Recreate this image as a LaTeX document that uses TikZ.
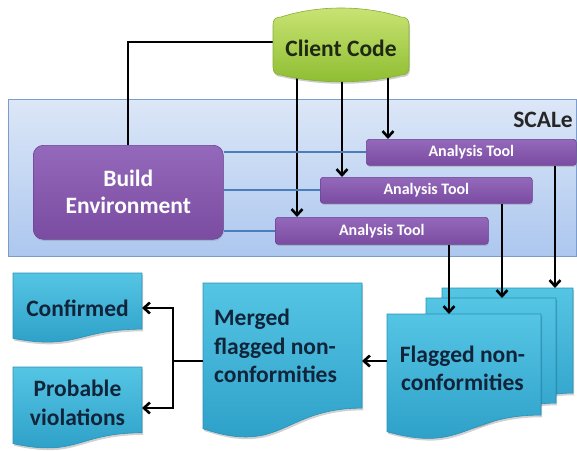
\documentclass[tikz,border=0pt]{standalone}
\usepackage{fontspec}
\setmainfont{Carlito}
\usetikzlibrary{arrows.meta,calc,shadows}

\definecolor{scaleTop}{HTML}{DCE7F7}
\definecolor{scaleBot}{HTML}{ADC7EF}
\definecolor{scaleEdge}{HTML}{7C9DCC}
\definecolor{purpTop}{HTML}{9468BA}
\definecolor{purpBot}{HTML}{7A4CA2}
\definecolor{purpEdge}{HTML}{6A4392}
\definecolor{greenTop}{HTML}{CBE476}
\definecolor{greenBot}{HTML}{8DBD30}
\definecolor{greenEdge}{HTML}{86AE36}
\definecolor{clientInk}{HTML}{1E2812}
\definecolor{docTop}{HTML}{55C5E4}
\definecolor{docBot}{HTML}{2A9DC6}
\definecolor{docEdge}{HTML}{2A90B6}
\definecolor{docInk}{HTML}{10243A}
\definecolor{linkblue}{HTML}{4A7EBB}

% helper for points on the Client Code outline, relative to its top-left corner
\newcommand\cc[2]{([shift={(#1,#2)}]client.north west)}
\newcommand\clientoutline{%
  \cc{0}{17} -- \cc{0}{59}
  .. controls \cc{0}{65} and \cc{3}{67} .. \cc{8}{67}
  .. controls \cc{45}{76} and \cc{91}{76} .. \cc{128}{67}
  .. controls \cc{133}{67} and \cc{136}{65} .. \cc{136}{59}
  -- \cc{136}{17}
  .. controls \cc{136}{11} and \cc{133}{9} .. \cc{128}{9}
  .. controls \cc{91}{-3} and \cc{45}{-3} .. \cc{8}{9}
  .. controls \cc{3}{9} and \cc{0}{11} .. \cc{0}{17} -- cycle}

% flowchart "document" outline with a wavy bottom edge
\newcommand\docoutline[1]{%
  (#1.north west) -- (#1.north east)
  -- ($(#1.north east)!0.802!(#1.south east)$)
  .. controls ($(#1.north)!0.802!(#1.south)$) and ($(#1.north)!1.107!(#1.south)$)
  .. ($(#1.north west)!0.934!(#1.south west)$) -- cycle}

\newcommand\drawdoc[1]{%
  \fill[docshadow] \docoutline{#1};
  \path[docfill] \docoutline{#1};}

\tikzset{
  flow/.style={draw=black, line width=2.6pt, -{Straight Barb[length=6pt,width=11pt]}},
  plain/.style={draw=black, line width=2.6pt},
  link/.style={draw=linkblue, line width=2pt},
  boldtext/.style={font=\fontsize{23.5}{28}\selectfont\bfseries},
  purplebox/.style={top color=purpTop, bottom color=purpBot, draw=purpEdge,
    line width=0.6pt, text=white,
    drop shadow={shadow xshift=0.6pt, shadow yshift=-1.6pt, opacity=0.3}},
  tool/.style={purplebox, rounded corners=3pt, anchor=north west,
    minimum height=26pt, inner sep=0pt, font=\fontsize{16}{19}\selectfont\bfseries},
  area/.style={rectangle, anchor=north west, inner sep=0pt, outer sep=0pt},
  doctext/.style={text=docInk, font=\fontsize{23.5}{28.5}\selectfont\bfseries, inner sep=0pt},
  docfill/.style={top color=docTop, bottom color=docBot, draw=docEdge, line width=0.6pt},
  docshadow/.style={fill=black, opacity=0.18, transform canvas={shift={(1.2pt,-2.2pt)}}},
}

\begin{document}
\begin{tikzpicture}[x=1pt, y=-1pt]
\useasboundingbox (0,0) rectangle (577,450);

% SCALe area
\node[area, minimum width=568pt, minimum height=157pt, top color=scaleTop,
  bottom color=scaleBot, draw=scaleEdge, line width=0.8pt] (scale) at (8,99) {};
\node[boldtext, anchor=east, text=black!85, inner sep=0pt] (scale-title) at (573,120) {SCALe};

% frames of the client code and of the documents
\node[area, minimum width=136pt, minimum height=74pt] (client) at (273,8) {};
\node[area, minimum width=131pt, minimum height=131pt] (flag3) at (442,288) {};
\node[area, minimum width=130pt, minimum height=131pt] (flag2) at (426,298) {};
\node[area, minimum width=154pt, minimum height=126pt] (flag1) at (387,314) {};
\node[area, minimum width=159pt, minimum height=156pt] (merged) at (203,283) {};
\node[area, minimum width=129pt, minimum height=70pt] (conf) at (13,273) {};
\node[area, minimum width=129pt, minimum height=82pt] (prob) at (13,367) {};

% analysis tools and build environment
\node[tool, minimum width=210pt] (tool1) at (366,139) {Analysis Tool};
\node[tool, minimum width=212pt] (tool2) at (320,177) {Analysis Tool};
\node[tool, minimum width=213pt, minimum height=27pt] (tool3) at (275,217) {Analysis Tool};

% connectors leaving the client code (drawn under its shape)
\coordinate (buildtop) at (128,145);
\draw[plain] ([yshift=3pt]client.west) -| (buildtop);
\draw[flow] ([shift={(24,-6)}]client.south west) -- ([xshift=22pt]tool3.north west);
\draw[flow] ([shift={(69,-6)}]client.south west) -- ([xshift=22pt]tool2.north west);
\draw[flow] ([shift={(115,-6)}]client.south west) -- ([xshift=22pt]tool1.north west);

\node[purplebox, rounded corners=10pt, anchor=north west, minimum width=190pt,
  minimum height=94pt, inner sep=0pt, align=center,
  font=\fontsize{23.5}{27}\selectfont\bfseries] (build) at (33,145) {Build\\Environment};

% client code
\fill[black, opacity=0.2, transform canvas={shift={(1pt,-2pt)}}] \clientoutline;
\path[top color=greenTop, bottom color=greenBot, draw=greenEdge, line width=0.6pt] \clientoutline;
\node[boldtext, text=clientInk, inner sep=0pt] (client-text) at ([yshift=-3pt]client.center) {Client Code};

% build environment feeds the tools
\draw[link] (build.east |- tool1.west) -- (tool1.west);
\draw[link] (build.east |- tool2.west) -- (tool2.west);
\draw[link] (build.east |- tool3.west) -- (tool3.west);

% documents
\drawdoc{flag3}
\drawdoc{flag2}
\drawdoc{flag1}
\drawdoc{merged}
\drawdoc{conf}
\drawdoc{prob}

\node[doctext, align=center] (flag-text) at ([shift={(-1.5,-8.5)}]flag1.center) {Flagged non-\\conformities};
\node[doctext, align=left, anchor=west] (merged-text) at ([shift={(11,-15)}]merged.west) {Merged\\flagged non-\\conformities};
\node[doctext] (conf-text) at (conf.center) {Confirmed};
\node[doctext, align=center] (prob-text) at ([yshift=5pt]prob.center) {Probable\\violations};

% tool outputs
\draw[flow] ([xshift=174pt]tool3.south west) -- ([xshift=174pt]tool3.south west |- flag1.north);
\draw[flow] ([xshift=182pt]tool2.south west) -- ([xshift=182pt]tool2.south west |- flag2.north);
\draw[flow] ([xshift=189pt]tool1.south west) -- ([xshift=189pt]tool1.south west |- flag3.north);

% merging and triage
\draw[flow] (merged.east -| flag1.west) -- (merged.east);
\coordinate (split) at ([xshift=-30pt]merged.west);
\draw[flow] (merged.west) -- (split) |- (conf.east);
\draw[flow] (merged.west) -- (split) |- (prob.east);
\end{tikzpicture}
\end{document}
